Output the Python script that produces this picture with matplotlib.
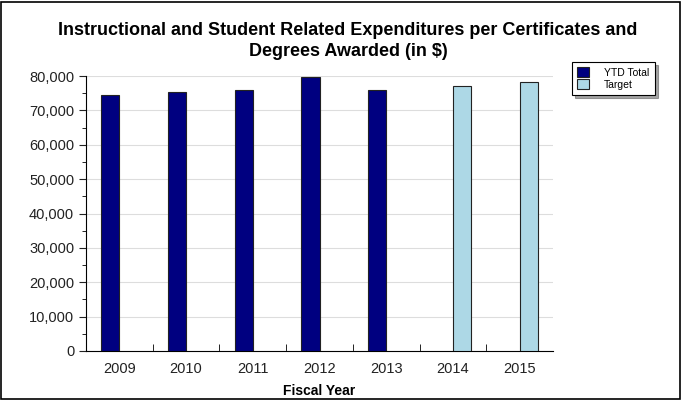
import matplotlib
matplotlib.use("Agg")
import matplotlib.pyplot as plt
import numpy as np
from matplotlib.patches import Rectangle
from matplotlib.ticker import MultipleLocator, FuncFormatter

years = ["2009", "2010", "2011", "2012", "2013", "2014", "2015"]
ytd_total = [74500, 75400, 76000, 79800, 76000, None, None]
target = [None, None, None, None, None, 77100, 78300]

plt.rcParams['font.family'] = ['Liberation Sans', 'DejaVu Sans']

fig = plt.figure(figsize=(6.81, 4.0), dpi=100)
ax = fig.add_axes([86/681, 1-351/400, (553-86)/681, (351-76)/400])

x = np.arange(len(years))
w = 0.27
ytd_x = [xi - w/2 for xi, v in zip(x, ytd_total) if v is not None]
ytd_v = [v for v in ytd_total if v is not None]
tg_x = [xi + w/2 for xi, v in zip(x, target) if v is not None]
tg_v = [v for v in target if v is not None]

ax.bar(ytd_x, ytd_v, width=w, color='#000080', edgecolor='#222222', linewidth=0.8, zorder=3, label='YTD Total')
ax.bar(tg_x, tg_v, width=w, color='#add8e6', edgecolor='#222222', linewidth=0.8, zorder=3, label='Target')

ax.set_xlim(-0.5, len(years) - 0.5)
ax.set_ylim(0, 80000)
ax.yaxis.set_major_locator(MultipleLocator(10000))
ax.yaxis.set_minor_locator(MultipleLocator(5000))
ax.yaxis.set_major_formatter(FuncFormatter(lambda v, p: f"{int(v):,}"))
ax.grid(axis='y', which='major', color='#dddddd', linewidth=0.8, zorder=0)

ax.set_xticks(x)
ax.set_xticklabels(years)
ax.set_xticks(np.arange(0.5, len(years) - 0.5, 1), minor=True)
ax.tick_params(axis='x', which='major', length=0, pad=8, labelsize=10.5, colors='#222222')
ax.tick_params(axis='x', which='minor', length=5, direction='in', color='black')
ax.tick_params(axis='y', which='major', length=5, direction='out', labelsize=10.5, colors='#222222')
ax.tick_params(axis='y', which='minor', length=3, direction='out', color='black')
for lab in ax.get_xticklabels() + ax.get_yticklabels():
    lab.set_color('#222222')

ax.spines['top'].set_visible(False)
ax.spines['right'].set_visible(False)
ax.spines['left'].set_color('black')
ax.spines['bottom'].set_color('black')

ax.set_xlabel("Fiscal Year", fontsize=10, fontweight='bold', labelpad=6)

fig.text(348/681, 1-41/400, "Instructional and Student Related Expenditures per Certificates and\nDegrees Awarded (in $)",
         ha='center', va='center', fontsize=13, fontweight='bold', linespacing=1.25)

# legend with shadow
leg = fig.legend(loc='upper left', bbox_to_anchor=(572/681, 1-62/400), fontsize=7.5,
                 frameon=True, fancybox=False, shadow=True, handlelength=1.1, handleheight=1.1,
                 borderpad=0.5, labelspacing=0.15, handletextpad=1.5, borderaxespad=0)
leg.get_frame().set_edgecolor('black')
leg.get_frame().set_linewidth(0.8)

fig.patches.append(Rectangle((0.002, 0.002), 0.996, 0.994, transform=fig.transFigure,
                             fill=False, edgecolor='black', linewidth=1.2))

fig.savefig("out.png", dpi=100)
